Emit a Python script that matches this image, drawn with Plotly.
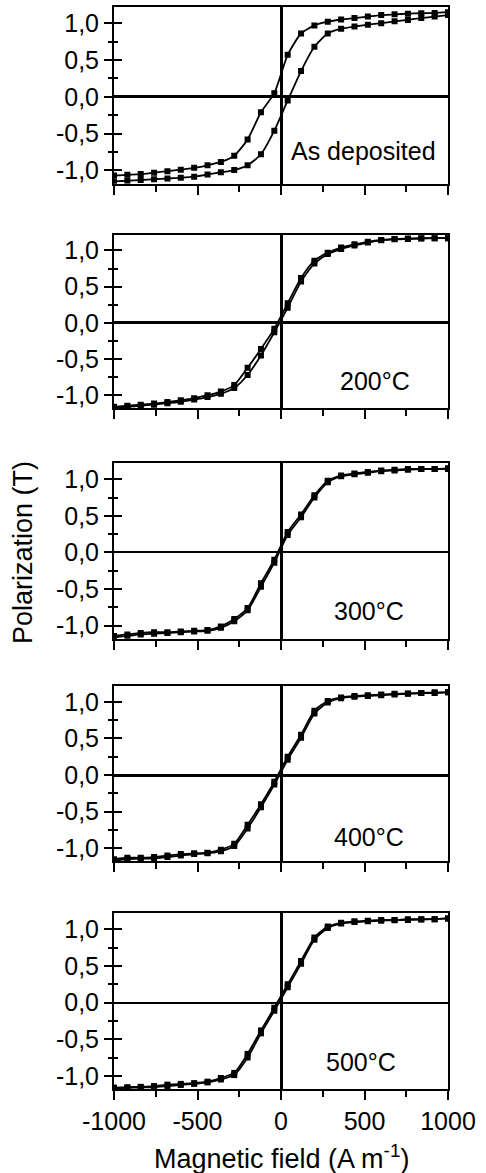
import plotly.graph_objects as go

# ---------------- data ----------------
H = [-1000, -920, -840, -760, -680, -600, -520, -440, -360, -280, -200, -120, -40,
     40, 120, 200, 280, 360, 440, 520, 600, 680, 760, 840, 920, 1000]

panel_labels = ["As deposited", "200°C", "300°C", "400°C", "500°C"]

# descending branch (coming from +saturation)
desc_asdep = [-1.07, -1.06, -1.05, -1.03, -1.01, -0.99, -0.965, -0.93, -0.885, -0.80, -0.58, -0.21, 0.05,
              0.57, 0.86, 0.97, 1.02, 1.05, 1.07, 1.09, 1.11, 1.12, 1.13, 1.135, 1.14, 1.15]
asc_asdep = [-1.15, -1.14, -1.13, -1.12, -1.11, -1.10, -1.085, -1.055, -1.025, -0.995, -0.93, -0.78, -0.46,
             -0.05, 0.35, 0.68, 0.86, 0.925, 0.955, 0.98, 1.0, 1.025, 1.045, 1.07, 1.09, 1.11]

desc_200 = [-1.16, -1.145, -1.13, -1.115, -1.095, -1.07, -1.04, -1.0, -0.95, -0.86, -0.62, -0.36, -0.08,
            0.27, 0.62, 0.86, 0.97, 1.04, 1.085, 1.12, 1.145, 1.16, 1.165, 1.17, 1.17, 1.17]
asc_200 = [-1.17, -1.16, -1.145, -1.13, -1.11, -1.09, -1.06, -1.025, -0.98, -0.90, -0.72, -0.45, -0.13,
           0.21, 0.57, 0.82, 0.95, 1.02, 1.07, 1.11, 1.14, 1.155, 1.16, 1.165, 1.17, 1.17]

desc_300 = [-1.14, -1.12, -1.10, -1.09, -1.09, -1.08, -1.07, -1.06, -1.01, -0.91, -0.76, -0.42, -0.10,
            0.28, 0.52, 0.78, 0.98, 1.05, 1.08, 1.10, 1.12, 1.13, 1.14, 1.14, 1.14, 1.14]
asc_300 = [-1.16, -1.14, -1.12, -1.11, -1.10, -1.09, -1.08, -1.07, -1.03, -0.94, -0.79, -0.47, -0.14,
           0.24, 0.48, 0.75, 0.96, 1.04, 1.07, 1.09, 1.11, 1.12, 1.13, 1.14, 1.14, 1.15]

desc_400 = [-1.15, -1.13, -1.13, -1.12, -1.10, -1.08, -1.07, -1.06, -1.02, -0.94, -0.68, -0.40, -0.09,
            0.25, 0.55, 0.88, 1.01, 1.06, 1.08, 1.09, 1.10, 1.11, 1.115, 1.12, 1.13, 1.13]
asc_400 = [-1.17, -1.15, -1.14, -1.14, -1.12, -1.10, -1.08, -1.07, -1.04, -0.97, -0.73, -0.44, -0.13,
           0.21, 0.51, 0.84, 0.99, 1.05, 1.07, 1.08, 1.09, 1.10, 1.11, 1.12, 1.12, 1.13]

desc_500 = [-1.16, -1.155, -1.15, -1.14, -1.12, -1.11, -1.10, -1.08, -1.03, -0.96, -0.70, -0.38, -0.07,
            0.25, 0.57, 0.89, 1.04, 1.09, 1.11, 1.12, 1.13, 1.13, 1.14, 1.14, 1.14, 1.15]
asc_500 = [-1.17, -1.165, -1.16, -1.155, -1.14, -1.125, -1.11, -1.09, -1.05, -0.99, -0.75, -0.42, -0.11,
           0.21, 0.53, 0.86, 1.02, 1.08, 1.10, 1.11, 1.12, 1.125, 1.13, 1.135, 1.14, 1.15]

x_tickvals = [-1000, -500, 0, 500, 1000]
x_ticktext = ["-1000", "-500", "0", "500", "1000"]
x_minor = [-750, -250, 250, 750]
y_tickvals = [-1.0, -0.5, 0.0, 0.5, 1.0]
y_ticktext = ["-1,0", "-0,5", "0,0", "0,5", "1,0"]
y_minor = [-0.75, -0.25, 0.25, 0.75]

branches = [(desc_asdep, asc_asdep), (desc_200, asc_200), (desc_300, asc_300),
            (desc_400, asc_400), (desc_500, asc_500)]

# ---------------- layout params ----------------
W, HT = 486, 1173
ML, MR, MT, MB = 114, 38, 5, 84
plot_h = HT - MT - MB
panel_px = [(5, 182), (233, 407), (462, 638), (685, 861), (913, 1089)]
domains = [((HT - MB - b) / plot_h, (HT - MB - t) / plot_h) for t, b in panel_px]
y_range = [-1.18, 1.22]
label_pos = [(491, -0.74), (563, -0.80), (527, -0.80), (527, -0.85), (479, -0.81)]
yzero_w = [2.5, 2.5, 2, 2.5, 1.5]

FONT = "Liberation Sans, Arial, sans-serif"

fig = go.Figure()
layout = dict(width=W, height=HT, margin=dict(l=ML, r=MR, t=MT, b=MB),
              paper_bgcolor="white", plot_bgcolor="white", showlegend=False,
              font=dict(family=FONT, size=25, color="black"))
annotations = []

for i in range(5):
    n = i + 1
    xa = "x" if n == 1 else f"x{n}"
    ya = "y" if n == 1 else f"y{n}"
    yo = f"y{n + 5}"
    for ys in branches[i]:
        fig.add_trace(go.Scatter(
            x=H, y=ys, xaxis=xa, yaxis=ya, mode="lines+markers",
            line=dict(color="black", width=1.8, shape="spline", smoothing=0.6),
            marker=dict(symbol="square", size=6, color="black"),
            hoverinfo="skip", showlegend=False))
    fig.add_trace(go.Scatter(x=[], y=[], xaxis=xa, yaxis=yo, showlegend=False, hoverinfo="skip"))

    layout["xaxis" if n == 1 else f"xaxis{n}"] = dict(
        domain=[0, 1], anchor=ya, range=[-1000, 1000],
        showline=True, linewidth=2, linecolor="black", mirror=True,
        ticks="outside", ticklen=9, tickwidth=2, tickcolor="black",
        tickmode="array", tickvals=x_tickvals, ticktext=x_ticktext,
        showticklabels=(n == 5), tickfont=dict(size=25),
        minor=dict(tickmode="array", tickvals=x_minor, ticks="outside",
                   ticklen=6, tickwidth=2, tickcolor="black"),
        zeroline=True, zerolinewidth=2.5, zerolinecolor="black",
        showgrid=False, fixedrange=True)
    layout["yaxis" if n == 1 else f"yaxis{n}"] = dict(
        domain=list(domains[i]), anchor=xa, range=y_range,
        showline=True, linewidth=2, linecolor="black", mirror=True,
        ticks="outside", ticklen=8, tickwidth=2, tickcolor="black",
        tickmode="array", tickvals=y_tickvals, ticktext=y_ticktext,
        tickfont=dict(size=25),
        minor=dict(tickmode="array", tickvals=y_minor, ticks="outside",
                   ticklen=4, tickwidth=2, tickcolor="black"),
        zeroline=True, zerolinewidth=yzero_w[i], zerolinecolor="black",
        showgrid=False, fixedrange=True)
    layout[f"yaxis{n + 5}"] = dict(
        overlaying=ya, anchor=xa, side="left", range=y_range,
        showline=False, ticks="inside", ticklen=8, tickwidth=2, tickcolor="black",
        tickmode="array", tickvals=y_tickvals, showticklabels=False,
        minor=dict(tickmode="array", tickvals=y_minor, ticks="inside",
                   ticklen=4, tickwidth=2, tickcolor="black"),
        zeroline=False, showgrid=False, fixedrange=True)
    lx, ly = label_pos[i]
    annotations.append(dict(text=panel_labels[i], x=lx, y=ly, xref=xa, yref=ya,
                            showarrow=False, font=dict(size=25, family=FONT, color="black")))

annotations.append(dict(text="Magnetic field (A m<sup>-1</sup>)", xref="paper", yref="paper",
                        x=0.5, y=(HT - MB - 1157) / plot_h, xanchor="center", yanchor="middle",
                        showarrow=False, font=dict(size=27, family=FONT, color="black")))
annotations.append(dict(text="Polarization (T)", xref="paper", yref="paper",
                        x=(23 - ML) / (W - ML - MR), y=(HT - MB - 552) / plot_h,
                        xanchor="center", yanchor="middle", textangle=-90,
                        showarrow=False, font=dict(size=27, family=FONT, color="black")))
layout["annotations"] = annotations
fig.update_layout(**layout)
fig.write_html("out.html")
